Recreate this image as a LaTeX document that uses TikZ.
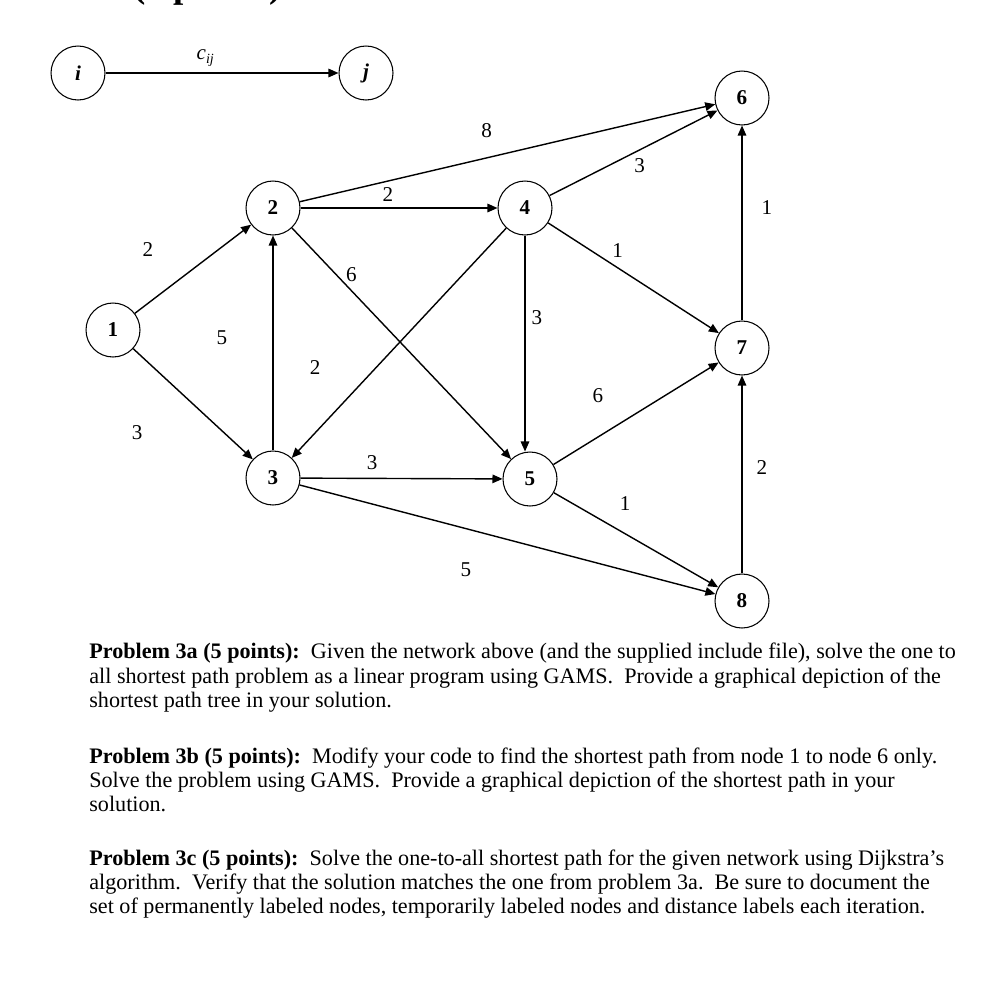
\documentclass[tikz,border=0pt]{standalone}
\usepackage{fontspec}
\setmainfont{Liberation Serif}
\usetikzlibrary{arrows.meta}

\begin{document}
\begin{tikzpicture}[
    x=0.02cm, y=-0.02cm,
    vertex/.style={circle, draw, line width=0.6pt, minimum size=1.08cm, inner sep=0pt, font=\fontsize{12}{14}\selectfont\bfseries},
    arrow/.style={-{Triangle[length=0.2cm, width=0.17cm]}, line width=0.8pt},
    weight/.style={font=\fontsize{12}{14}\selectfont, inner sep=0pt}
]
\useasboundingbox (0,0) rectangle (996,994);
\clip (0,0) rectangle (996,994);

% heading cut off at the top
\node[anchor=base west, inner sep=0pt, font=\fontsize{21}{25}\selectfont\bfseries] (heading) at (133,-2.5) {(5 points)};

% legend
\node[vertex, font=\fontsize{12}{14}\selectfont\bfseries\itshape] (ni) at (78,73) {i};
\node[vertex, font=\fontsize{12}{14}\selectfont\bfseries\itshape] (nj) at (366,73) {j};
\draw[arrow] (ni) -- node[weight, pos=.43, yshift=.3cm] {\textit{c}\textsubscript{\textit{ij}}} (nj);

% network
\node[vertex] (n1) at (113,330) {1};
\node[vertex] (n2) at (273,208) {2};
\node[vertex] (n3) at (273,478) {3};
\node[vertex] (n4) at (525,208) {4};
\node[vertex] (n5) at (530,479) {5};
\node[vertex] (n6) at (742,98) {6};
\node[vertex] (n7) at (742,348) {7};
\node[vertex] (n8) at (742,601) {8};

\draw[arrow] (n1) -- node[weight, pos=.336, xshift=-.52cm, yshift=.68cm] {2} (n2);
\draw[arrow] (n1) -- node[weight, pos=.367, xshift=-.8cm, yshift=-.86cm] {3} (n3);
\draw[arrow] (n3) -- node[weight, pos=.525, xshift=-1.02cm] {5} (n2);
\draw[arrow] (n4) -- node[weight, pos=.74, xshift=-.65cm, yshift=.61cm] {2} (n3);
\draw[arrow] (n2) -- node[weight, pos=.444, yshift=.26cm] {2} (n4);
\draw[arrow] (n2) -- node[weight, pos=.235, xshift=.16cm, yshift=.16cm] {6} (n5);
\draw[arrow] (n2) -- node[weight, pos=.464, xshift=-.12cm, yshift=.52cm] {8} (n6);
\draw[arrow] (n4) -- node[weight, pos=.498, xshift=.13cm, yshift=-.25cm] {3} (n6);
\draw[arrow] (n4) -- node[weight, pos=.363, xshift=.15cm, yshift=.24cm] {1} (n7);
\draw[arrow] (n4) -- node[weight, pos=.378, xshift=.24cm] {3} (n4 |- n5.north);
\draw[arrow] (n3) -- node[weight, pos=.355, yshift=.32cm] {3} (n5);
\draw[arrow] (n3) -- node[weight, pos=.424, xshift=-.2cm, yshift=-.76cm] {5} (n8);
\draw[arrow] (n5) -- node[weight, pos=.385, xshift=-.38cm, yshift=.6cm] {6} (n7);
\draw[arrow] (n5) -- node[weight, pos=.354, xshift=.26cm, yshift=.46cm] {1} (n8);
\draw[arrow] (n7) -- node[weight, pos=.577, xshift=.5cm] {1} (n6);
\draw[arrow] (n8) -- node[weight, pos=.533, xshift=.4cm] {2} (n7);

% problem text
\node[anchor=north west, align=left, inner sep=0pt, font=\fontsize{12.6}{13.7}\selectfont] (task) at (89,643) {%
\textbf{Problem 3a (5 points):}\ \ Given the network above (and the supplied include file), solve the one to\\
all shortest path problem as a linear program using GAMS.\ \ Provide a graphical depiction of the\\
shortest path tree in your solution.\\[.64cm]
\textbf{Problem 3b (5 points):}\ \ Modify your code to find the shortest path from node 1 to node 6 only.\\
Solve the problem using GAMS.\ \ Provide a graphical depiction of the shortest path in your\\
solution.\\[.6cm]
\textbf{Problem 3c (5 points):}\ \ Solve the one-to-all shortest path for the given network using Dijkstra’s\\
algorithm.\ \ Verify that the solution matches the one from problem 3a.\ \ Be sure to document the\\
set of permanently labeled nodes, temporarily labeled nodes and distance labels each iteration.};

\end{tikzpicture}
\end{document}
